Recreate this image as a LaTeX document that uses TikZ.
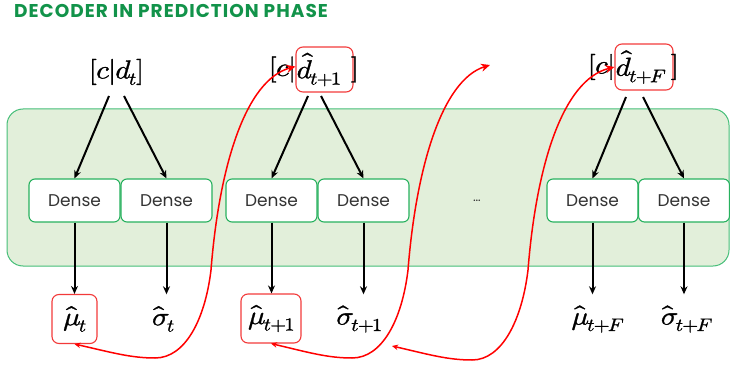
\documentclass[tikz,border=0pt]{standalone}
\usepackage{fontspec}
\usepackage{unicode-math}
\setmathfont{Latin Modern Math}[FakeBold=1.2, FakeStretch=1.12]
\newfontfamily\popp{Poppins}
\newfontfamily\poppt{Poppins}[LetterSpace=5.5]
\usetikzlibrary{arrows.meta,calc}
\definecolor{titlegreen}{HTML}{12934A}
\definecolor{panelfill}{HTML}{E2EFDA}
\definecolor{panelborder}{HTML}{45BE78}
\definecolor{boxborder}{HTML}{27B15E}
\definecolor{densetext}{HTML}{333333}
\definecolor{redc}{HTML}{FF0000}
\definecolor{redbox}{HTML}{F23A3A}
\begin{document}
\begin{tikzpicture}[x=1pt,y=-1pt,
  dense/.style={draw=boxborder, line width=1.1pt, fill=white, rounded corners=6pt,
    minimum width=91pt, minimum height=43pt, inner sep=0pt,
    font=\popp\fontsize{17}{19}\selectfont, text=densetext},
  arr/.style={-{Stealth[length=8pt,width=7pt]}, line width=2pt},
  lab/.style={inner sep=0pt, font=\fontsize{26}{30}\selectfont},
  outlab/.style={inner sep=0pt, minimum height=49pt, font=\fontsize{26}{30}\selectfont},
  redframe/.style={draw=redbox, line width=1.1pt, rounded corners=7pt},
  feed/.style={draw=redc, line width=1.5pt, {Stealth[length=6pt,width=5.5pt]}-{Stealth[length=9pt,width=8pt]}}]
\useasboundingbox (0,0) rectangle (730,366);
% title
\node[anchor=west, text=titlegreen, font=\poppt\bfseries\fontsize{18.5}{20}\selectfont, inner sep=0pt]
  (title) at (14,11) {DECODER IN PREDICTION PHASE};
% panel
\node[draw=panelborder, fill=panelfill, line width=1pt, rounded corners=16pt,
  minimum width=722pt, minimum height=157pt, inner sep=0pt] (panel) at (368,187.5) {};
% dense boxes
\node[dense] (dA) at (74.5,200.5) {Dense};
\node[dense] (dB) at (166.5,200.5) {Dense};
\node[dense] (dC) at (271.5,200.5) {Dense};
\node[dense] (dD) at (363.5,200.5) {Dense};
\node[dense] (dE) at (592.5,200.5) {Dense};
\node[dense] (dF) at (684,200.5) {Dense};
\node[inner sep=0pt, font=\popp\fontsize{13}{14}\selectfont, text=densetext] (dots) at (477,201) {\dots};
% top labels
\node[lab] (top1) at (116,72) {$[c|d_t]$};
\node[redframe, minimum width=57pt, minimum height=45pt, inner sep=0pt] (d1box) at (324.5,69.5) {};
\node[lab, anchor=west] (d1txt) at ([xshift=1pt]d1box.west) {$\hat d_{t+1}$};
\node[lab, anchor=east] (c1) at (d1box.west) {$[c|$};
\node[lab, anchor=west] (r1) at ([xshift=-3pt]d1box.east) {$]$};
\node[redframe, minimum width=58pt, minimum height=46pt, inner sep=0pt] (dFbox) at (644,67) {};
\node[lab, anchor=west] (dFtxt) at ([xshift=1pt]dFbox.west) {$\hat d_{t+F}$};
\node[lab, anchor=east] (cF) at (dFbox.west) {$[c|$};
\node[lab, anchor=west] (rF) at ([xshift=-3pt]dFbox.east) {$]$};
% start points of the input arrows
\coordinate (s1a) at (109,96);
\coordinate (s1b) at (124,96);
\coordinate (s2a) at (308,96);
\coordinate (s2b) at (321,96);
\coordinate (s3a) at (626,97);
\coordinate (s3b) at (643,97);
\draw[arr] (s1a) -- (dA.north);
\draw[arr] (s1b) -- (dB.north);
\draw[arr] (s2a) -- (dC.north);
\draw[arr] (s2b) -- (dD.north);
\draw[arr] (s3a) -- (dE.north);
\draw[arr] (s3b) -- (dF.north);
% output labels
\node[outlab, draw=redbox, line width=1.1pt, rounded corners=7pt, minimum width=45pt] (muA) at (74.5,319) {$\hat\mu_t$};
\node[outlab] (sgA) at (163,319) {$\hat\sigma_t$};
\node[outlab, draw=redbox, line width=1.1pt, rounded corners=7pt, minimum width=60pt] (muB) at (271,318.5) {$\hat\mu_{t+1}$};
\node[outlab] (sgB) at (359,319) {$\hat\sigma_{t+1}$};
\node[outlab] (muF) at (597,319) {$\hat\mu_{t+F}$};
\node[outlab] (sgF) at (686,319) {$\hat\sigma_{t+F}$};
\draw[arr] (dA.south) -- (dA.south |- muA.north);
\draw[arr] (dB.south) -- (dB.south |- sgA.north);
\draw[arr] (dC.south) -- (dC.south |- muB.north);
\draw[arr] (dD.south) -- (dD.south |- sgB.north);
\draw[arr] (dE.south) -- (dE.south |- muF.north);
\draw[arr] (dF.south) -- (dF.south |- sgF.north);
% feedback curves
\coordinate (m1a) at (155,358);
\coordinate (m1b) at (211,270);
\draw[feed] (muA.south) .. controls (110,352) and (130,358) .. (m1a)
  .. controls (185,358) and (205,320) .. (m1b)
  .. controls (219,168) and (245,80) .. ([yshift=3pt]d1box.west);
\coordinate (m2a) at (352,358);
\coordinate (m2b) at (408,270);
\coordinate (e2) at (490,65);
\draw[feed] (muB.south) .. controls (307,352) and (327,358) .. (m2a)
  .. controls (382,358) and (402,320) .. (m2b)
  .. controls (416,168) and (442,80) .. (e2);
\coordinate (s3) at (392,346);
\coordinate (m3a) at (472,360);
\coordinate (m3b) at (528,270);
\draw[feed] (s3) .. controls (427,354) and (447,360) .. (m3a)
  .. controls (502,360) and (522,320) .. (m3b)
  .. controls (536,168) and (562,80) .. ([yshift=0pt]dFbox.west);
\end{tikzpicture}
\end{document}
